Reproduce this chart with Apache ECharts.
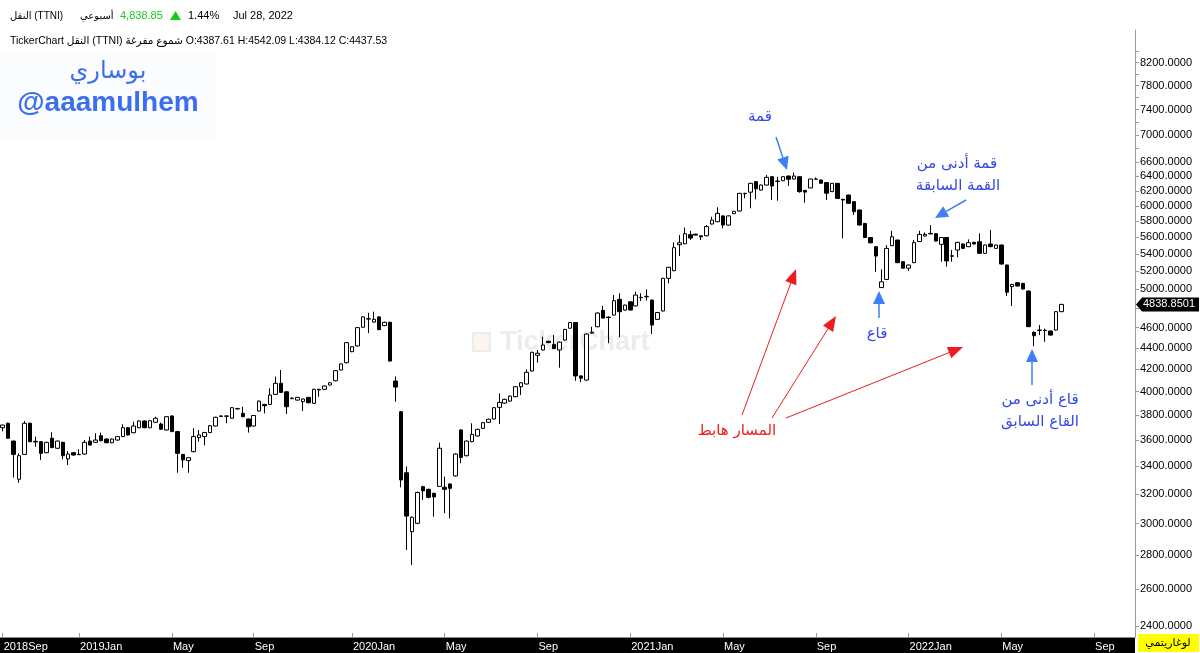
<!DOCTYPE html>
<html><head><meta charset="utf-8">
<script src="https://cdn.jsdelivr.net/npm/echarts@6/dist/echarts.min.js"></script>
<style>html,body{margin:0;padding:0;background:#fff}#c{width:1200px;height:653px}</style>
</head><body><div id="c"></div>
<script>
// Weekly candles [open, close, low, high], Sep 2018 -> Jul 28 2022
const candles = [
[3698,3720,3669,3722],[3734,3614,3610,3740],[3592,3489,3317,3595],[3305,3479,3280,3497],[3489,3734,3485,3753],
[3734,3587,3583,3740],[3590,3585,3548,3627],[3587,3497,3447,3592],[3502,3582,3498,3586],[3614,3541,3537,3662],
[3536,3592,3530,3596],[3582,3479,3452,3586],[3455,3492,3409,3515],[3502,3484,3480,3506],[3489,3487,3484,3528],
[3492,3582,3488,3600],[3592,3561,3557,3627],[3582,3600,3578,3654],[3634,3595,3590,3659],[3608,3579,3575,3612],
[3579,3608,3575,3612],[3600,3627,3596,3632],[3627,3698,3623,3726],[3698,3640,3636,3703],[3658,3712,3654,3747],
[3698,3753,3694,3757],[3753,3698,3694,3757],[3698,3755,3694,3759],[3742,3775,3738,3788],[3728,3686,3682,3740],
[3680,3788,3676,3792],[3794,3667,3663,3800],[3667,3497,3352,3672],[3489,3447,3389,3493],[3442,3464,3352,3468],
[3510,3627,3505,3694],[3619,3640,3587,3680],[3627,3659,3558,3665],[3659,3714,3655,3720],[3712,3783,3708,3788],
[3790,3794,3786,3800],[3794,3792,3734,3798],[3775,3863,3771,3868],[3853,3856,3848,3862],[3816,3788,3784,3871],
[3769,3706,3659,3773],[3712,3798,3708,3802],[3835,3919,3831,3924],[3891,3880,3816,3895],[3891,3971,3886,4030],
[3977,4074,3972,4134],[4074,3994,3990,4194],[3999,3871,3810,4005],[3940,3945,3935,3950],[3928,3951,3924,3955],
[3914,3937,3835,3941],[3951,3905,3900,3955],[3900,4021,3895,4026],[4015,4021,3956,4026],[4021,4050,4016,4055],
[4059,4079,4055,4084],[4097,4188,4092,4193],[4194,4250,4190,4255],[4261,4452,4256,4458],[4365,4413,4360,4418],
[4420,4600,4415,4606],[4604,4709,4600,4715],[4687,4690,4545,4751],[4656,4684,4650,4763],[4709,4580,4575,4715],
[4620,4654,4615,4660],[4654,4277,4270,4660],[4094,4041,3914,4135],[3829,3300,3247,3835],[3352,3050,2832,3398],
[2948,3042,2741,3048],[3002,3211,2997,3217],[3252,3222,3159,3258],[3233,3177,3170,3238],[3205,3180,3046,3210],
[3254,3536,3250,3579],[3248,3233,3069,3324],[3271,3240,3035,3276],[3329,3492,3324,3497],[3680,3466,3422,3686],
[3479,3592,3474,3597],[3587,3645,3583,3734],[3632,3685,3628,3690],[3693,3739,3689,3744],[3742,3767,3738,3772],
[3769,3863,3765,3868],[3866,3908,3728,3985],[3902,3934,3898,3939],[3919,3962,3914,3967],[3957,4044,3952,4049],
[4044,4079,3971,4084],[4068,4173,4064,4200],[4185,4359,4180,4365],[4331,4350,4263,4381],[4381,4429,4376,4510],
[4465,4452,4448,4470],[4435,4394,4390,4526],[4381,4457,4215,4462],[4477,4582,4473,4588],[4594,4651,4590,4657],
[4651,4140,4097,4657],[4140,4120,4084,4146],[4103,4536,4098,4542],[4545,4555,4540,4609],[4609,4749,4604,4755],
[4776,4697,4692,4824],[4707,4703,4446,4712],[4728,4878,4724,4939],[4893,4762,4506,4957],[4780,4832,4775,4837],
[4866,4780,4775,4871],[4823,4939,4818,4975],[4910,4914,4875,4957],[4920,4925,4880,5000],[4885,4626,4536,4890],
[4684,4754,4680,4760],[4770,5122,4765,5128],[5122,5247,5066,5252],[5208,5476,5203,5540],[5512,5535,5377,5629],
[5523,5646,5518,5722],[5634,5592,5568,5680],[5640,5629,5623,5646],[5620,5608,5568,5626],[5620,5734,5615,5753],
[5766,5816,5761,5858],[5795,5902,5790,5980],[5869,5753,5712,5875],[5753,5869,5748,5875],[5898,5928,5893,5934],
[5932,6165,5927,6171],[6160,6165,6098,6172],[6181,6301,5967,6307],[6324,6226,6085,6330],[6210,6278,6205,6284],
[6278,6384,6273,6416],[6393,6265,6076,6400],[6327,6333,6067,6393],[6337,6393,6332,6398],[6402,6357,6265,6408],
[6361,6402,6356,6450],[6393,6188,6174,6398],[6205,6182,6040,6210],[6238,6361,6233,6366],[6357,6361,6350,6384],
[6347,6302,6297,6352],[6311,6167,6076,6316],[6188,6301,6183,6306],[6301,6097,6092,6306],[6085,6076,5589,6090],
[6142,6032,6027,6148],[6054,5923,5880,6060],[5945,5753,5748,5950],[5774,5599,5594,5780],[5599,5534,5529,5604],
[5488,5377,5196,5493],[5020,5083,5015,5224],[5110,5468,5105,5508],[5500,5608,5495,5682],[5568,5300,5295,5573],
[5311,5237,5232,5316],[5237,5273,5205,5278],[5300,5537,5295,5568],[5550,5637,5545,5682],[5617,5637,5612,5660],
[5643,5649,5640,5753],[5646,5556,5550,5652],[5516,5599,5311,5604],[5599,5320,5255,5604],[5380,5375,5311,5448],
[5448,5540,5362,5546],[5520,5468,5463,5526],[5488,5536,5483,5576],[5541,5520,5515,5546],[5548,5409,5404,5650],
[5409,5508,5404,5513],[5520,5488,5483,5691],[5468,5508,5463,5513],[5508,5284,5279,5513],[5273,4970,4928,5278],
[5030,5055,4822,5060],[5073,5037,5032,5078],[5066,5004,4999,5072],[4982,4610,4605,4988],[4554,4519,4418,4560],
[4576,4572,4526,4626],[4574,4570,4460,4590],[4566,4526,4521,4571],[4576,4763,4571,4769],[4763,4839,4758,4845]
];
const emptyWeeksAfter = 13;
const monthTicks = [[0,'2018Sep'],[14,'2019Jan'],[31,'May'],[46,'Sep'],[64,'2020Jan'],[81,'May'],[98,'Sep'],
  [115,'2021Jan'],[132,'May'],[149,'Sep'],[166,'2022Jan'],[183,'May'],[200,'Sep']];
const yLabelValues = [2400,2600,2800,3000,3200,3400,3600,3800,4000,4200,4400,4600,5000,5200,5400,5600,5800,6000,6200,6400,6600,7000,7400,7800,8200];
const yTickValues = yLabelValues.concat([4800,6800,7200,7600,8000,8400]);
const yMin = 2343, yMax = 8803;
const lastPrice = 4838.8501;
const headerTitle = 'النقل (TTNI)';
const headerPeriod = 'أسبوعي';
const headerPrice = '4,838.85';
const headerChange = '1.44%';
const headerDate = 'Jul 28, 2022';
const ohlcLine = 'TickerChart النقل (TTNI) شموع مفرغة O:4387.61 H:4542.09 L:4384.12 C:4437.53';

const categories = [];
for (let i = 0; i < candles.length + emptyWeeksAfter; i++) categories.push('w' + i);
const tickMap = {};
monthTicks.forEach(t => { tickMap[t[0]] = t[1]; });
const isTick = (idx) => tickMap[idx] !== undefined;

const BLUE_T = '#3048e6', BLUE_A = '#3d80f5', RED = '#ee1c1c';
const AR = "'DejaVu Sans', sans-serif";
const LS = "'Liberation Sans','DejaVu Sans', sans-serif";

function arrow(x1, y1, x2, y2, color, head, hw, lw) {
  const dx = x2 - x1, dy = y2 - y1, L = Math.hypot(dx, dy);
  const ux = dx / L, uy = dy / L, px = -uy, py = ux;
  const bx = x2 - ux * head, by = y2 - uy * head;
  return [
    { type: 'line', shape: { x1, y1, x2: bx, y2: by }, style: { stroke: color, lineWidth: lw }, z: 10 },
    { type: 'polygon', shape: { points: [[x2, y2], [bx + px * hw, by + py * hw], [bx - px * hw, by - py * hw]] }, style: { fill: color }, z: 10 }
  ];
}
function txt(x, y, text, opt, z) {
  return { type: 'text', x, y, z: z || 10, style: Object.assign({ text, fill: '#000', font: '11px ' + LS, textVerticalAlign: 'middle' }, opt || {}) };
}

const graphics = [
  { type: 'rect', shape: { x: 0, y: 638, width: 1135, height: 15 }, style: { fill: '#000' }, z: -5 },
  { type: 'rect', shape: { x: 1138, y: 634, width: 61, height: 18 }, style: { fill: '#ffff00' }, z: 5 },
  txt(1168, 643, 'لوغاريتمي', { font: '11px ' + AR, textAlign: 'center' }),
  txt(10, 16, headerTitle, { font: '10px ' + LS }),
  txt(80, 16, headerPeriod, { font: '10px ' + AR }),
  txt(120, 16, headerPrice, { fill: '#1ec81e', font: '11px ' + LS }),
  { type: 'polygon', shape: { points: [[170, 20], [181, 20], [175.5, 11]] }, style: { fill: '#19c819' }, z: 10 },
  txt(188, 16, headerChange),
  txt(233, 16, headerDate),
  txt(10, 41, ohlcLine, { font: '10.5px ' + LS }),
  { type: 'rect', shape: { x: 0, y: 52, width: 215, height: 86 }, style: { fill: '#fbfcfd' }, z: -6 },
  txt(108, 72, 'بوساري', { fill: '#3c6ef0', font: '24px ' + AR, textAlign: 'center' }),
  txt(108, 103, '@aaamulhem', { fill: '#3c6ef0', font: 'bold 28px ' + LS, textAlign: 'center' }),
  { type: 'rect', shape: { x: 473, y: 333, width: 17, height: 18 }, style: { fill: '#fbf6ec', stroke: '#ececec', lineWidth: 2 }, z: -6 },
  txt(500, 343, 'TickerChart', { fill: '#ececec', font: 'bold 27px ' + LS }, -6),
  txt(760, 117, 'قمة', { fill: BLUE_T, font: '15px ' + AR, textAlign: 'center' }),
  txt(957, 164, 'قمة أدنى من', { fill: BLUE_T, font: '15px ' + AR, textAlign: 'center' }),
  txt(958, 186, 'القمة السابقة', { fill: BLUE_T, font: '15px ' + AR, textAlign: 'center' }),
  txt(877, 334, 'قاع', { fill: BLUE_T, font: '15px ' + AR, textAlign: 'center' }),
  txt(1040, 400, 'قاع أدنى من', { fill: BLUE_T, font: '15px ' + AR, textAlign: 'center' }),
  txt(1040, 422, 'القاع السابق', { fill: BLUE_T, font: '15px ' + AR, textAlign: 'center' }),
  txt(737, 431, 'المسار هابط', { fill: RED, font: '15px ' + AR, textAlign: 'center' })
].concat(
  arrow(776, 137, 787, 170, BLUE_A, 13, 6, 1.5),
  arrow(966, 200, 935, 218, BLUE_A, 13, 6, 1.5),
  arrow(879, 318, 879, 291, BLUE_A, 13, 6, 1.5),
  arrow(1032, 385, 1032, 349, BLUE_A, 13, 6, 1.5),
  arrow(742, 415, 796, 269, RED, 15, 6, 1),
  arrow(772, 418, 836, 316, RED, 15, 6, 1),
  arrow(786, 418, 963, 347, RED, 15, 6, 1)
);

const chart = echarts.init(document.getElementById('c'), null, { renderer: 'canvas' });
chart.setOption({
  animation: false,
  backgroundColor: '#fff',
  grid: { left: 0, right: 65, top: 30, bottom: 16, containLabel: false, outerBoundsMode: 'none' },
  xAxis: {
    type: 'category', data: categories, boundaryGap: true,
    axisLine: { show: true, lineStyle: { color: '#8a8a8a', width: 1 } },
    axisTick: { show: true, inside: true, length: 4, alignWithLabel: true, interval: (i) => isTick(i), lineStyle: { color: '#9a9a9a' } },
    axisLabel: { show: true, interval: (i) => isTick(i), formatter: (v, i) => tickMap[i] || '', color: '#fff', fontSize: 11, fontFamily: LS, align: 'left', margin: 4, padding: [0, 0, 0, 1], hideOverlap: false },
    splitLine: { show: false }
  },
  yAxis: {
    type: 'log', logBase: 10, position: 'right', min: yMin, max: yMax,
    axisLine: { show: true, lineStyle: { color: '#9a9a9a' } },
    axisTick: { show: true, length: 4, customValues: yTickValues, lineStyle: { color: '#9a9a9a' } },
    axisLabel: { show: true, customValues: yLabelValues, formatter: (v) => Number(v).toFixed(4), color: '#000', fontSize: 11, fontFamily: LS, margin: 5 },
    splitLine: { show: false }, minorTick: { show: false }
  },
  series: [{
    type: 'candlestick', data: candles, barWidth: 4, z: 3,
    itemStyle: { color: '#fff', color0: '#000', borderColor: '#000', borderColor0: '#000', borderWidth: 1 }
  }],
  graphic: { elements: graphics }
});

const py = chart.convertToPixel({ yAxisIndex: 0 }, lastPrice);
chart.setOption({ graphic: { elements: graphics.concat([
  { type: 'polygon', shape: { points: [[1136, py], [1142, py - 7], [1199, py - 7], [1199, py + 7], [1142, py + 7]] }, style: { fill: '#000' }, z: 20 },
  txt(1143, py, lastPrice.toFixed(4), { fill: '#fff', font: '11px ' + LS }, 21)
]) } });
</script>
</body></html>
